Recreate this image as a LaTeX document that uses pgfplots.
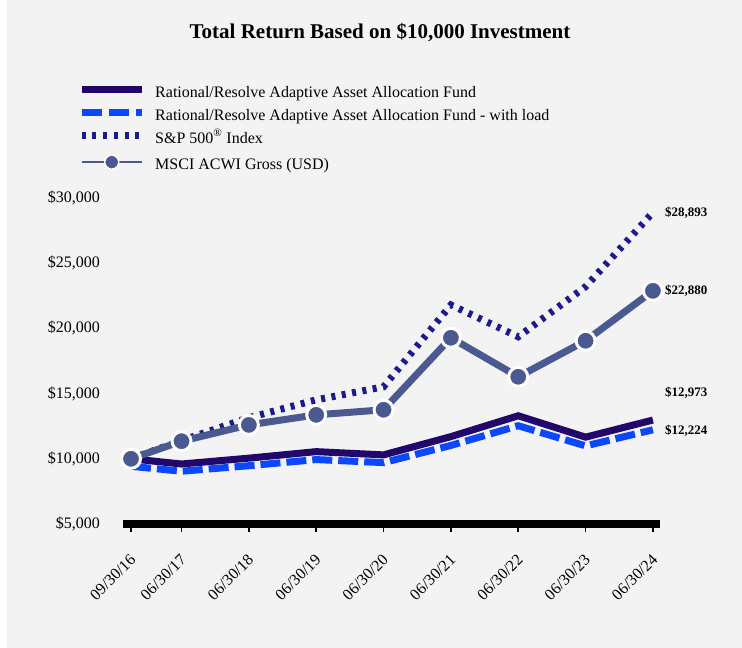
\documentclass[border=0pt]{standalone}
\usepackage{fontspec}
\setmainfont{Liberation Serif}
\usepackage{pgfplots}
\pgfplotsset{compat=1.18}
\definecolor{bg}{HTML}{F3F3F3}
\definecolor{fund}{HTML}{21076B}
\definecolor{load}{HTML}{0A47FF}
\definecolor{spx}{HTML}{1B1B8F}
\definecolor{msci}{HTML}{4A5A90}
\begin{document}
\begin{tikzpicture}[x=1pt,y=1pt]
\fill[bg] (0,0) rectangle (742,648);
\fill[white] (0,0) rectangle (7,648);
\node[font=\fontsize{21}{24}\selectfont\bfseries] at (380,615) {Total Return Based on \$10,000 Investment};
\begin{axis}[
  at={(123pt,124pt)}, anchor=south west,
  width=537pt, height=326pt, scale only axis,
  xmin=-0.119, xmax=7.855, ymin=5000, ymax=30000,
  clip=false, scaled ticks=false,
  axis x line*=bottom, axis y line*=left,
  y axis line style={draw=none},
  x axis line style={line width=8pt, black, -},
  ytick={5000,10000,15000,20000,25000,30000},
  yticklabels={{\$5,000},{\$10,000},{\$15,000},{\$20,000},{\$25,000},{\$30,000}},
  ytick style={draw=none},
  yticklabel style={font=\fontsize{16}{18}\selectfont, anchor=east, inner sep=0pt, xshift=-23pt},
  xtick={0,0.75,1.75,2.75,3.75,4.75,5.75,6.75,7.75},
  xticklabels={09/30/16,06/30/17,06/30/18,06/30/19,06/30/20,06/30/21,06/30/22,06/30/23,06/30/24},
  xtick align=outside, major tick length=8pt,
  xtick style={line width=1.5pt, black},
  xticklabel style={font=\fontsize{16}{18}\selectfont, anchor=north east, inner sep=0pt, xshift=-2pt, yshift=-21pt, rotate=45},
  legend style={at={(-0.0893,1.35)}, anchor=north west, draw=none, fill=none,
    font=\fontsize{16}{18}\selectfont, row sep=8pt,
    nodes={inner sep=0pt, text height=11pt, text depth=4pt, anchor=west},
    /tikz/every odd column/.append style={column sep=10pt}},
  legend cell align=left,
]
\addplot[fund, line width=7pt, line join=miter,
  legend image code/.code={\draw[fund, line width=7pt] (0pt,4pt) -- (60pt,4pt);}]
  coordinates {(0,10000) (0.75,9600) (1.75,10050) (2.75,10550) (3.75,10300) (4.75,11700) (5.75,13300) (6.75,11660) (7.75,12973)};
\addlegendentry{Rational/Resolve Adaptive Asset Allocation Fund}
\addplot[load, line width=7pt, dash pattern=on 20pt off 6pt,
  legend image code/.code={\draw[load, line width=7pt, dash pattern=on 20pt off 7pt] (0pt,4pt) -- (60pt,4pt);}]
  coordinates {(0,9425) (0.75,9046) (1.75,9470) (2.75,9940) (3.75,9706) (4.75,11025) (5.75,12533) (6.75,10990) (7.75,12224)};
\addlegendentry{Rational/Resolve Adaptive Asset Allocation Fund - with load}
\addplot[spx, line width=7pt, dash pattern=on 4pt off 6.5pt,
  legend image code/.code={\draw[spx, line width=7pt, dash pattern=on 4pt off 6.7pt] (0pt,4pt) -- (60pt,4pt);}]
  coordinates {(0,10000) (0.75,11400) (1.75,13150) (2.75,14520) (3.75,15520) (4.75,21800) (5.75,19360) (6.75,23200) (7.75,28893)};
\addlegendentry{S\&P 500\textsuperscript{\textregistered} Index}
\addplot[msci, line width=7pt, mark=*, mark size=9.5pt, mark options={fill=msci, draw=white, line width=3pt},
  legend image code/.code={\draw[msci, line width=2pt, mark=*, mark repeat=2, mark phase=2, mark size=7pt, mark options={fill=msci, draw=white, line width=1.5pt}] plot coordinates {(0pt,4pt) (30pt,4pt) (60pt,4pt)};
    \draw[draw=none, mark=*, mark size=1.6pt, mark options={fill=black, draw=none}] plot coordinates {(30pt,4pt)};}]
  coordinates {(0,10000) (0.75,11350) (1.75,12600) (2.75,13370) (3.75,13760) (4.75,19280) (5.75,16290) (6.75,19050) (7.75,22880)};
\addlegendentry{MSCI ACWI Gross (USD)}
\node[anchor=west, inner sep=0pt, font=\fontsize{13}{15}\selectfont\bfseries] at (axis cs:7.75,28865) [xshift=12pt] {\$28,893};
\node[anchor=west, inner sep=0pt, font=\fontsize{13}{15}\selectfont\bfseries] at (axis cs:7.75,22880) [xshift=12pt] {\$22,880};
\node[anchor=west, inner sep=0pt, font=\fontsize{13}{15}\selectfont\bfseries] at (axis cs:7.75,15060) [xshift=12pt] {\$12,973};
\node[anchor=west, inner sep=0pt, font=\fontsize{13}{15}\selectfont\bfseries] at (axis cs:7.75,12150) [xshift=12pt] {\$12,224};
\end{axis}
\end{tikzpicture}
\end{document}
